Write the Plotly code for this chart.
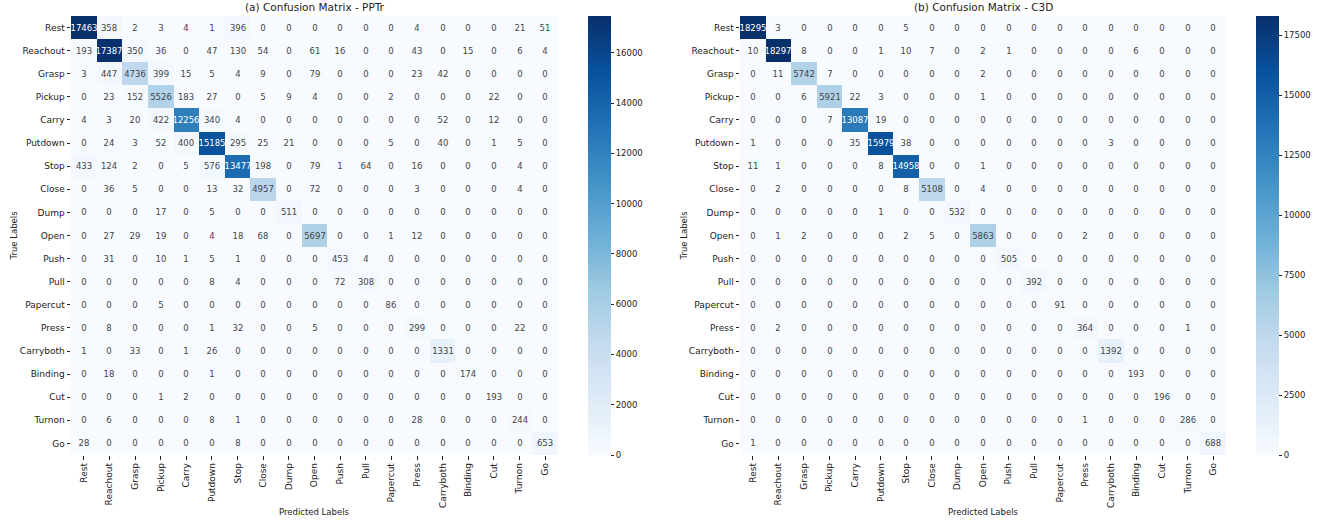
import plotly.graph_objects as go

labels = ["Rest", "Reachout", "Grasp", "Pickup", "Carry", "Putdown", "Stop", "Close", "Dump",
          "Open", "Push", "Pull", "Papercut", "Press", "Carryboth", "Binding", "Cut", "Turnon", "Go"]

cm_pptr = [
    [17463, 358, 2, 3, 4, 1, 396, 0, 0, 0, 0, 0, 0, 4, 0, 0, 0, 21, 51],
    [193, 17387, 350, 36, 0, 47, 130, 54, 0, 61, 16, 0, 0, 43, 0, 15, 0, 6, 4],
    [3, 447, 4736, 399, 15, 5, 4, 9, 0, 79, 0, 0, 0, 23, 42, 0, 0, 0, 0],
    [0, 23, 152, 5526, 183, 27, 0, 5, 9, 4, 0, 0, 2, 0, 0, 0, 22, 0, 0],
    [4, 3, 20, 422, 12256, 340, 4, 0, 0, 0, 0, 0, 0, 0, 52, 0, 12, 0, 0],
    [0, 24, 3, 52, 400, 15185, 295, 25, 21, 0, 0, 0, 5, 0, 40, 0, 1, 5, 0],
    [433, 124, 2, 0, 5, 576, 13477, 198, 0, 79, 1, 64, 0, 16, 0, 0, 0, 4, 0],
    [0, 36, 5, 0, 0, 13, 32, 4957, 0, 72, 0, 0, 0, 3, 0, 0, 0, 4, 0],
    [0, 0, 0, 17, 0, 5, 0, 0, 511, 0, 0, 0, 0, 0, 0, 0, 0, 0, 0],
    [0, 27, 29, 19, 0, 4, 18, 68, 0, 5697, 0, 0, 1, 12, 0, 0, 0, 0, 0],
    [0, 31, 0, 10, 1, 5, 1, 0, 0, 0, 453, 4, 0, 0, 0, 0, 0, 0, 0],
    [0, 0, 0, 0, 0, 8, 4, 0, 0, 0, 72, 308, 0, 0, 0, 0, 0, 0, 0],
    [0, 0, 0, 5, 0, 0, 0, 0, 0, 0, 0, 0, 86, 0, 0, 0, 0, 0, 0],
    [0, 8, 0, 0, 0, 1, 32, 0, 0, 5, 0, 0, 0, 299, 0, 0, 0, 22, 0],
    [1, 0, 33, 0, 1, 26, 0, 0, 0, 0, 0, 0, 0, 0, 1331, 0, 0, 0, 0],
    [0, 18, 0, 0, 0, 1, 0, 0, 0, 0, 0, 0, 0, 0, 0, 174, 0, 0, 0],
    [0, 0, 0, 1, 2, 0, 0, 0, 0, 0, 0, 0, 0, 0, 0, 0, 193, 0, 0],
    [0, 6, 0, 0, 0, 8, 1, 0, 0, 0, 0, 0, 0, 28, 0, 0, 0, 244, 0],
    [28, 0, 0, 0, 0, 0, 8, 0, 0, 0, 0, 0, 0, 0, 0, 0, 0, 0, 653],
]

cm_c3d = [
    [18295, 3, 0, 0, 0, 0, 5, 0, 0, 0, 0, 0, 0, 0, 0, 0, 0, 0, 0],
    [10, 18297, 8, 0, 0, 1, 10, 7, 0, 2, 1, 0, 0, 0, 0, 6, 0, 0, 0],
    [0, 11, 5742, 7, 0, 0, 0, 0, 0, 2, 0, 0, 0, 0, 0, 0, 0, 0, 0],
    [0, 0, 6, 5921, 22, 3, 0, 0, 0, 1, 0, 0, 0, 0, 0, 0, 0, 0, 0],
    [0, 0, 0, 7, 13087, 19, 0, 0, 0, 0, 0, 0, 0, 0, 0, 0, 0, 0, 0],
    [1, 0, 0, 0, 35, 15979, 38, 0, 0, 0, 0, 0, 0, 0, 3, 0, 0, 0, 0],
    [11, 1, 0, 0, 0, 8, 14958, 0, 0, 1, 0, 0, 0, 0, 0, 0, 0, 0, 0],
    [0, 2, 0, 0, 0, 0, 8, 5108, 0, 4, 0, 0, 0, 0, 0, 0, 0, 0, 0],
    [0, 0, 0, 0, 0, 1, 0, 0, 532, 0, 0, 0, 0, 0, 0, 0, 0, 0, 0],
    [0, 1, 2, 0, 0, 0, 2, 5, 0, 5863, 0, 0, 0, 2, 0, 0, 0, 0, 0],
    [0, 0, 0, 0, 0, 0, 0, 0, 0, 0, 505, 0, 0, 0, 0, 0, 0, 0, 0],
    [0, 0, 0, 0, 0, 0, 0, 0, 0, 0, 0, 392, 0, 0, 0, 0, 0, 0, 0],
    [0, 0, 0, 0, 0, 0, 0, 0, 0, 0, 0, 0, 91, 0, 0, 0, 0, 0, 0],
    [0, 2, 0, 0, 0, 0, 0, 0, 0, 0, 0, 0, 0, 364, 0, 0, 0, 1, 0],
    [0, 0, 0, 0, 0, 0, 0, 0, 0, 0, 0, 0, 0, 0, 1392, 0, 0, 0, 0],
    [0, 0, 0, 0, 0, 0, 0, 0, 0, 0, 0, 0, 0, 0, 0, 193, 0, 0, 0],
    [0, 0, 0, 0, 0, 0, 0, 0, 0, 0, 0, 0, 0, 0, 0, 0, 196, 0, 0],
    [0, 0, 0, 0, 0, 0, 0, 0, 0, 0, 0, 0, 0, 1, 0, 0, 0, 286, 0],
    [1, 0, 0, 0, 0, 0, 0, 0, 0, 0, 0, 0, 0, 0, 0, 0, 0, 0, 688],
]

titles = ["(a) Confusion Matrix - PPTr", "(b) Confusion Matrix - C3D"]
cbar_dticks = [2000, 2500]

blues = [
    [0.0, "#f7fbff"], [0.125, "#deebf7"], [0.25, "#c6dbef"], [0.375, "#9ecae1"],
    [0.5, "#6baed6"], [0.625, "#4292c6"], [0.75, "#2171b5"], [0.875, "#08519c"], [1.0, "#08306b"],
]

W, H = 1323, 523
FONT = "DejaVu Sans"

def px_x(p):
    return p / W

def px_y(p):
    return 1 - p / H

top_px, bot_px = 16, 455
panels = [
    dict(x0=71, x1=558, cb=588, ylab=13),
    dict(x0=740, x1=1226, cb=1256, ylab=683),
]

fig = go.Figure()
annotations = []
for i, (cm, pan) in enumerate(zip([cm_pptr, cm_c3d], panels)):
    zmax = max(max(r) for r in cm)
    xa = "x" if i == 0 else "x2"
    ya = "y" if i == 0 else "y2"
    fig.add_trace(go.Heatmap(
        z=cm, x=labels, y=labels, xaxis=xa, yaxis=ya,
        colorscale=blues, zmin=0, zmax=zmax, xgap=0, ygap=0,
        texttemplate="%{z:.0f}", textfont=dict(family=FONT, size=8.5),
        colorbar=dict(
            x=px_x(pan["cb"]), xanchor="left", xpad=0, ypad=0,
            y=px_y(bot_px), yanchor="bottom", len=(bot_px - top_px) / H, lenmode="fraction",
            thickness=23, thicknessmode="pixels", outlinewidth=0,
            ticks="outside", ticklen=3.5, tickwidth=0.8, tickcolor="#222",
            dtick=cbar_dticks[i], tick0=0, tickformat="d",
            tickfont=dict(family=FONT, size=8.5, color="#222"),
        ),
    ))
    axx = dict(domain=[px_x(pan["x0"]), px_x(pan["x1"])], anchor=ya, tickangle=-90,
               ticks="outside", ticklen=3.5, tickwidth=0.8, tickcolor="#222",
               tickfont=dict(family=FONT, size=9, color="#222"), showgrid=False,
               zeroline=False, showline=False, automargin=False)
    axy = dict(domain=[px_y(bot_px), px_y(top_px)], anchor=xa, autorange="reversed",
               ticks="outside", ticklen=3.5, tickwidth=0.8, tickcolor="#222",
               tickfont=dict(family=FONT, size=9, color="#222"), showgrid=False,
               zeroline=False, showline=False, automargin=False)
    if i == 0:
        fig.update_layout(xaxis=axx, yaxis=axy)
    else:
        fig.update_layout(xaxis2=axx, yaxis2=axy)
    cx = (pan["x0"] + pan["x1"]) / 2
    annotations.append(dict(text=titles[i], x=px_x(cx), y=px_y(7), xref="paper", yref="paper",
                            xanchor="center", yanchor="middle", showarrow=False,
                            font=dict(family=FONT, size=10.5, color="#222")))
    annotations.append(dict(text="Predicted Labels", x=px_x(cx), y=px_y(512), xref="paper", yref="paper",
                            xanchor="center", yanchor="middle", showarrow=False,
                            font=dict(family=FONT, size=8.5, color="#222")))
    annotations.append(dict(text="True Labels", x=px_x(pan["ylab"]), y=px_y((top_px + bot_px) / 2),
                            xref="paper", yref="paper", xanchor="center", yanchor="middle",
                            textangle=-90, showarrow=False,
                            font=dict(family=FONT, size=8.5, color="#222")))

fig.update_layout(
    width=W, height=H, margin=dict(l=0, r=0, t=0, b=0, autoexpand=False),
    paper_bgcolor="white", plot_bgcolor="white",
    annotations=annotations, font=dict(family=FONT),
)

fig.write_html("out.html", config={"displayModeBar": False},
               post_script="document.body.style.margin='0';document.body.style.overflow='hidden';")
